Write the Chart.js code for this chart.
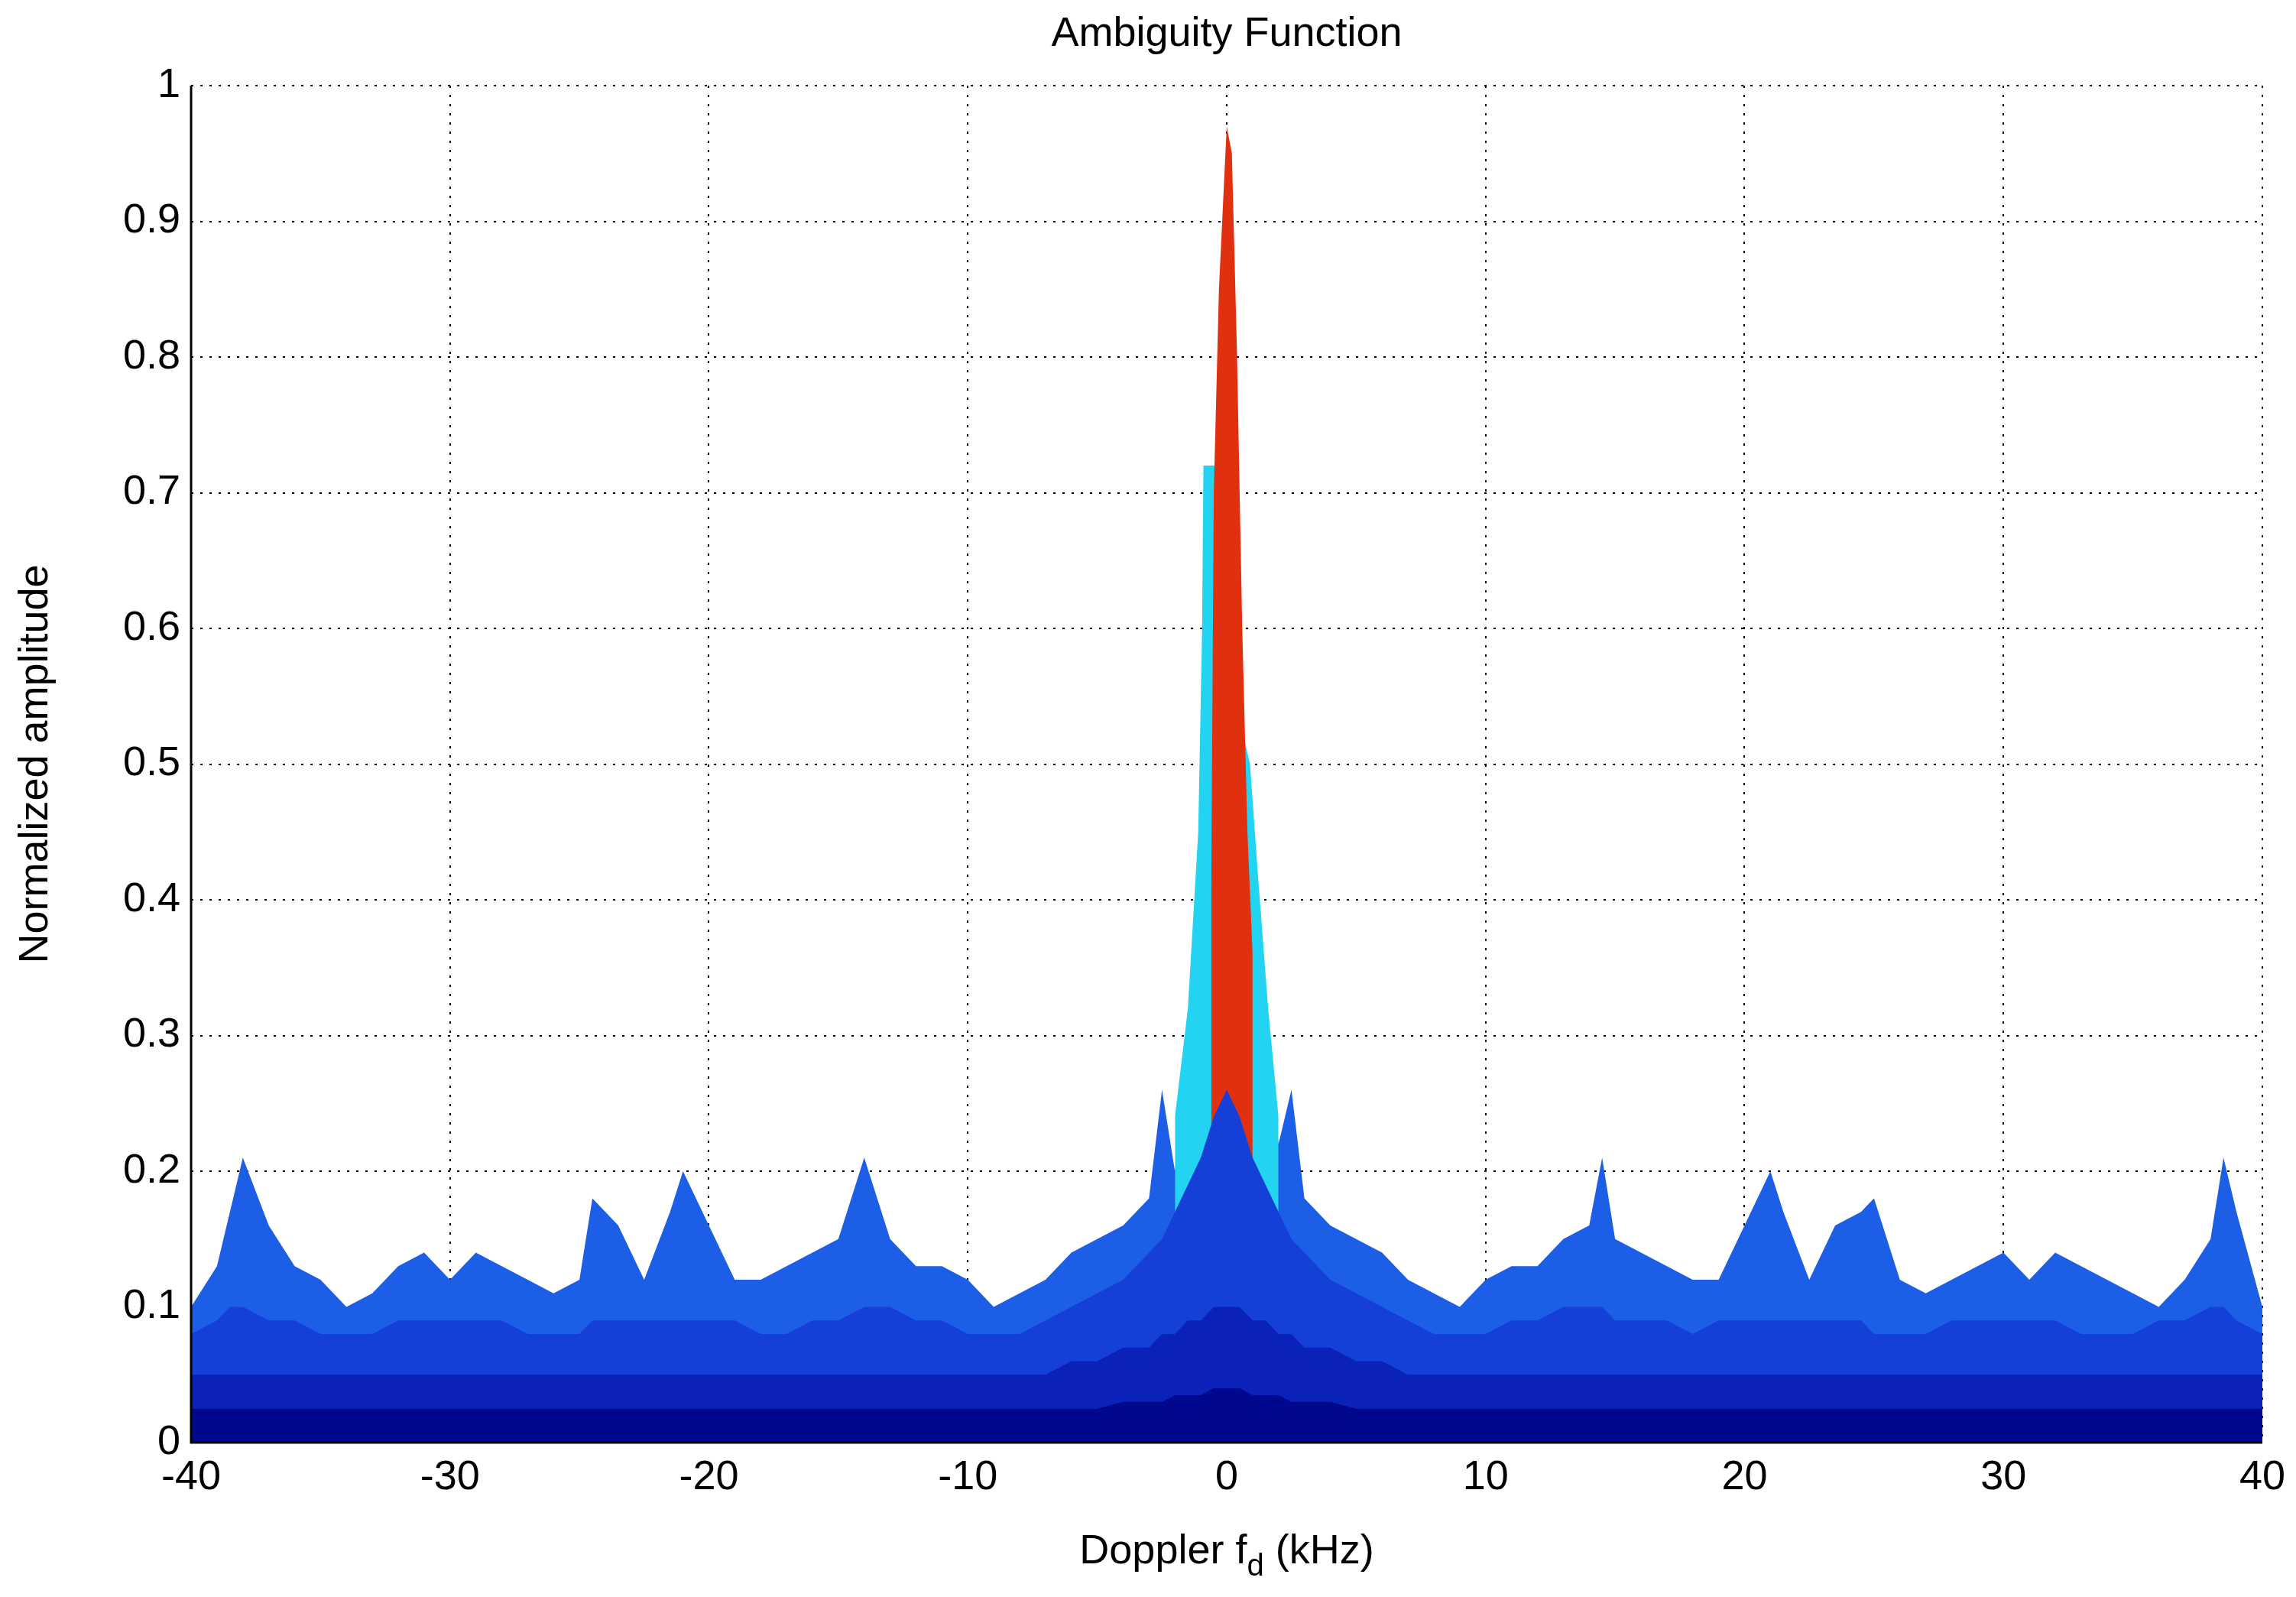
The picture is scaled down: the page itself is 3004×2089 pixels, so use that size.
<!DOCTYPE html>
<html>
<head>
<meta charset="utf-8">
<script src="https://cdn.jsdelivr.net/npm/chart.js@4/dist/chart.umd.min.js"></script>
<style>
  html, body { margin: 0; padding: 0; background: #fff; }
  #wrap { width: 3004px; height: 2089px; }
</style>
</head>
<body>
<div id="wrap"><canvas id="afChart"></canvas></div>
<script>
// Doppler axis (kHz)
const doppler = [-40,-39,-38.5,-38,-37,-36,-35,-34,-33,-32,-31,-30,-29,-28,-27,-26,-25,-24.5,-23.5,-22.5,-21.5,-21,-20,-19,-18,-17,-16,-15,-14,-13,-12,-11,-10,-9,-8,-7,-6,-5,-4,-3,-2.5,-2,-1.5,-1,-0.5,0,0.5,1,1.5,2,2.5,3,4,5,6,7,8,9,10,11,12,13,14,14.5,15,16,17,18,19,20,21,21.5,22.5,23.5,24.5,25,26,27,28,29,30,31,32,33,34,35,36,37,38,38.5,39,40];
// outer envelope (top of surface)
const envelope = [0.10,0.13,0.17,0.21,0.16,0.13,0.12,0.10,0.11,0.13,0.14,0.12,0.14,0.13,0.12,0.11,0.12,0.18,0.16,0.12,0.17,0.20,0.16,0.12,0.12,0.13,0.14,0.15,0.21,0.15,0.13,0.13,0.12,0.10,0.11,0.12,0.14,0.15,0.16,0.18,0.26,0.20,0.30,0.36,0.45,0.50,0.45,0.38,0.30,0.22,0.26,0.18,0.16,0.15,0.14,0.12,0.11,0.10,0.12,0.13,0.13,0.15,0.16,0.21,0.15,0.14,0.13,0.12,0.12,0.16,0.20,0.17,0.12,0.16,0.17,0.18,0.12,0.11,0.12,0.13,0.14,0.12,0.14,0.13,0.12,0.11,0.10,0.12,0.15,0.21,0.17,0.10];
// mid layer
const midLayer = [0.08,0.09,0.10,0.10,0.09,0.09,0.08,0.08,0.08,0.09,0.09,0.09,0.09,0.09,0.08,0.08,0.08,0.09,0.09,0.09,0.09,0.09,0.09,0.09,0.08,0.08,0.09,0.09,0.10,0.10,0.09,0.09,0.08,0.08,0.08,0.09,0.10,0.11,0.12,0.14,0.15,0.17,0.19,0.21,0.24,0.26,0.24,0.21,0.19,0.17,0.15,0.14,0.12,0.11,0.10,0.09,0.08,0.08,0.08,0.09,0.09,0.10,0.10,0.10,0.09,0.09,0.09,0.08,0.09,0.09,0.09,0.09,0.09,0.09,0.09,0.08,0.08,0.08,0.09,0.09,0.09,0.09,0.09,0.08,0.08,0.08,0.09,0.09,0.10,0.10,0.09,0.08];
// dark lower layers
const lowLayer = [0.05,0.05,0.05,0.05,0.05,0.05,0.05,0.05,0.05,0.05,0.05,0.05,0.05,0.05,0.05,0.05,0.05,0.05,0.05,0.05,0.05,0.05,0.05,0.05,0.05,0.05,0.05,0.05,0.05,0.05,0.05,0.05,0.05,0.05,0.05,0.05,0.06,0.06,0.07,0.07,0.08,0.08,0.09,0.09,0.10,0.10,0.10,0.09,0.09,0.08,0.08,0.07,0.07,0.06,0.06,0.05,0.05,0.05,0.05,0.05,0.05,0.05,0.05,0.05,0.05,0.05,0.05,0.05,0.05,0.05,0.05,0.05,0.05,0.05,0.05,0.05,0.05,0.05,0.05,0.05,0.05,0.05,0.05,0.05,0.05,0.05,0.05,0.05,0.05,0.05,0.05,0.05];
const floorLayer = [0.025,0.025,0.025,0.025,0.025,0.025,0.025,0.025,0.025,0.025,0.025,0.025,0.025,0.025,0.025,0.025,0.025,0.025,0.025,0.025,0.025,0.025,0.025,0.025,0.025,0.025,0.025,0.025,0.025,0.025,0.025,0.025,0.025,0.025,0.025,0.025,0.025,0.025,0.03,0.03,0.03,0.035,0.035,0.035,0.04,0.04,0.04,0.035,0.035,0.035,0.03,0.03,0.03,0.025,0.025,0.025,0.025,0.025,0.025,0.025,0.025,0.025,0.025,0.025,0.025,0.025,0.025,0.025,0.025,0.025,0.025,0.025,0.025,0.025,0.025,0.025,0.025,0.025,0.025,0.025,0.025,0.025,0.025,0.025,0.025,0.025,0.025,0.025,0.025,0.025,0.025,0.025];
// central main lobe
const cyanX = [-2,-1.5,-1.1,-0.95,-0.9,-0.4,0.3,0.9,1.2,1.6,2];
const cyanPeak = [0.24,0.32,0.45,0.60,0.72,0.72,0.55,0.50,0.42,0.32,0.24];
const redX = [-0.6,-0.5,-0.3,-0.1,0,0.2,0.4,0.6,0.8,1.0];
const redPeak = [0.40,0.70,0.85,0.93,0.97,0.95,0.80,0.60,0.45,0.36];
const xTicks = [-40,-30,-20,-10,0,10,20,30,40];

const FONT = '"Liberation Sans", Arial, sans-serif';
const pts = (xs, ys) => xs.map((x, i) => ({ x: x, y: ys[i] }));
const layer = (data, color) => ({
  data: data, borderWidth: 0, pointRadius: 0, fill: 'origin',
  backgroundColor: color, borderColor: color, tension: 0
});

const labelPlugin = {
  id: 'labels',
  afterDraw(chart) {
    const { ctx, chartArea: a } = chart;
    ctx.save();
    ctx.fillStyle = '#000';
    ctx.font = '54px ' + FONT;
    ctx.textAlign = 'center';
    ctx.textBaseline = 'alphabetic';
    ctx.fillText('Ambiguity Function', (a.left + a.right) / 2, 60);
    // x title with subscript
    const cx = (a.left + a.right) / 2, y = 2045;
    const p1 = 'Doppler f', p2 = 'd', p3 = ' (kHz)';
    const w1 = ctx.measureText(p1).width, w3 = ctx.measureText(p3).width;
    ctx.font = '40px ' + FONT;
    const w2 = ctx.measureText(p2).width;
    const sx = cx - (w1 + w2 + w3) / 2;
    ctx.textAlign = 'left';
    ctx.font = '54px ' + FONT;
    ctx.fillText(p1, sx, y);
    ctx.font = '40px ' + FONT;
    ctx.fillText(p2, sx + w1, y + 16);
    ctx.font = '54px ' + FONT;
    ctx.fillText(p3, sx + w1 + w2, y);
    // y title
    ctx.translate(62, (a.top + a.bottom) / 2);
    ctx.rotate(-Math.PI / 2);
    ctx.textAlign = 'center';
    ctx.fillText('Normalized amplitude', 0, 0);
    ctx.restore();
  }
};

new Chart(document.getElementById('afChart'), {
  type: 'line',
  data: {
    // lower index draws on top
    datasets: [
      layer(pts(doppler, floorLayer), '#00088e'),
      layer(pts(doppler, lowLayer), '#0a22b8'),
      layer(pts(doppler, midLayer), '#1440d8'),
      layer(pts(redX, redPeak), '#e03010'),
      layer(pts(cyanX, cyanPeak), '#22d4f2'),
      layer(pts(doppler, envelope), '#1c5fe6')
    ]
  },
  options: {
    responsive: true,
    maintainAspectRatio: false,
    animation: false,
    layout: { padding: { top: 112, right: 38, left: 0, bottom: 0 } },
    plugins: { legend: { display: false }, tooltip: { enabled: false } },
    scales: {
      x: {
        type: 'linear', min: -40, max: 40,
        afterBuildTicks: s => { s.ticks = xTicks.map(v => ({ value: v })); },
        afterFit: s => { s.height = 202; },
        grid: { color: '#000', lineWidth: 2, drawTicks: false },
        border: { display: false, dash: [3, 9] },
        ticks: { color: '#000', padding: 14, font: { size: 54, family: FONT } }
      },
      y: {
        min: 0, max: 1,
        afterFit: s => { s.width = 250; },
        grid: { color: '#000', lineWidth: 2, drawTicks: false },
        border: { display: false, dash: [3, 9] },
        ticks: { stepSize: 0.1, color: '#000', padding: 14, font: { size: 54, family: FONT },
          callback: v => String(Math.round(v * 10) / 10) }
      }
    }
  },
  plugins: [labelPlugin, {
    id: 'frame',
    afterDraw(chart) {
      const { ctx, chartArea: a } = chart;
      ctx.save();
      ctx.strokeStyle = '#000';
      ctx.lineWidth = 3;
      ctx.beginPath();
      ctx.moveTo(a.left, a.top); ctx.lineTo(a.left, a.bottom);
      ctx.lineTo(a.right, a.bottom);
      ctx.stroke();
      ctx.restore();
    }
  }]
});
</script>
</body>
</html>
